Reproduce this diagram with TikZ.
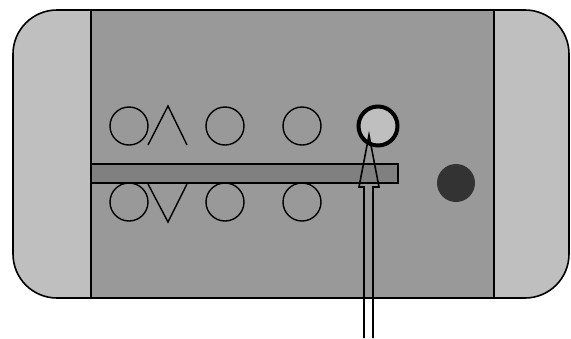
\documentclass[tikz,border=0pt]{standalone}
\usetikzlibrary{calc}
\definecolor{lightg}{gray}{0.75}
\definecolor{midg}{gray}{0.6}
\definecolor{barg}{gray}{0.5}
\definecolor{darkg}{gray}{0.2}
\tikzset{
  btn/.style={circle, draw=black, line width=1.4pt, minimum size=38pt, inner sep=0pt},
  glyph/.style={draw=black, line width=1.4pt, line join=miter},
  edge/.style={draw=black, line width=1.6pt}
}
\begin{document}
\begin{tikzpicture}[x=1pt,y=-1pt]
\useasboundingbox (0,0) rectangle (571,338);
% outer case
\node[edge, fill=lightg, rounded corners=44pt, minimum width=556pt, minimum height=288pt, inner sep=0pt] (case) at (291,154) {};
% inner panel
\node[edge, fill=midg, minimum width=403pt, minimum height=288pt, inner sep=0pt] (panel) at (292.5,154) {};
% bar
\node[draw=black, line width=1.3pt, fill=barg, minimum width=307pt, minimum height=19pt, inner sep=0pt] (bar) at (244.5,173.5) {};
% top row
\node[btn] (t1) at (129,126) {};
\node[btn] (t3) at (225,126) {};
\node[btn] (t4) at (302,126) {};
\path[glyph] (148,145) -- (168,106) -- (187,145);
% bottom row
\node[btn] (b1) at (129,202) {};
\node[btn] (b3) at (225,202) {};
\node[btn] (b4) at (302,202) {};
\path[glyph] (148,184) -- (168,222) -- (187,184);
% selected button
\node[circle, draw=black, line width=4pt, fill=lightg, minimum size=39pt, inner sep=0pt] (sel) at (378,126) {};
% dark dot
\node[circle, fill=darkg, minimum size=38pt, inner sep=0pt] (dot) at (456,183) {};
% arrow
\coordinate (abase) at (368.5,338);
\coordinate (atip) at ($(sel.center)+(-9,9)$);
\draw[line width=1.6pt, line join=miter]
  ($(abase)+(-4.5,0)$) -- ($(abase)+(-4.5,-151)$) -- ($(abase)+(-9.5,-151)$)
  -- (atip) -- ($(abase)+(10.5,-151)$) -- ($(abase)+(4.5,-151)$) -- ($(abase)+(4.5,0)$);
\end{tikzpicture}
\end{document}
